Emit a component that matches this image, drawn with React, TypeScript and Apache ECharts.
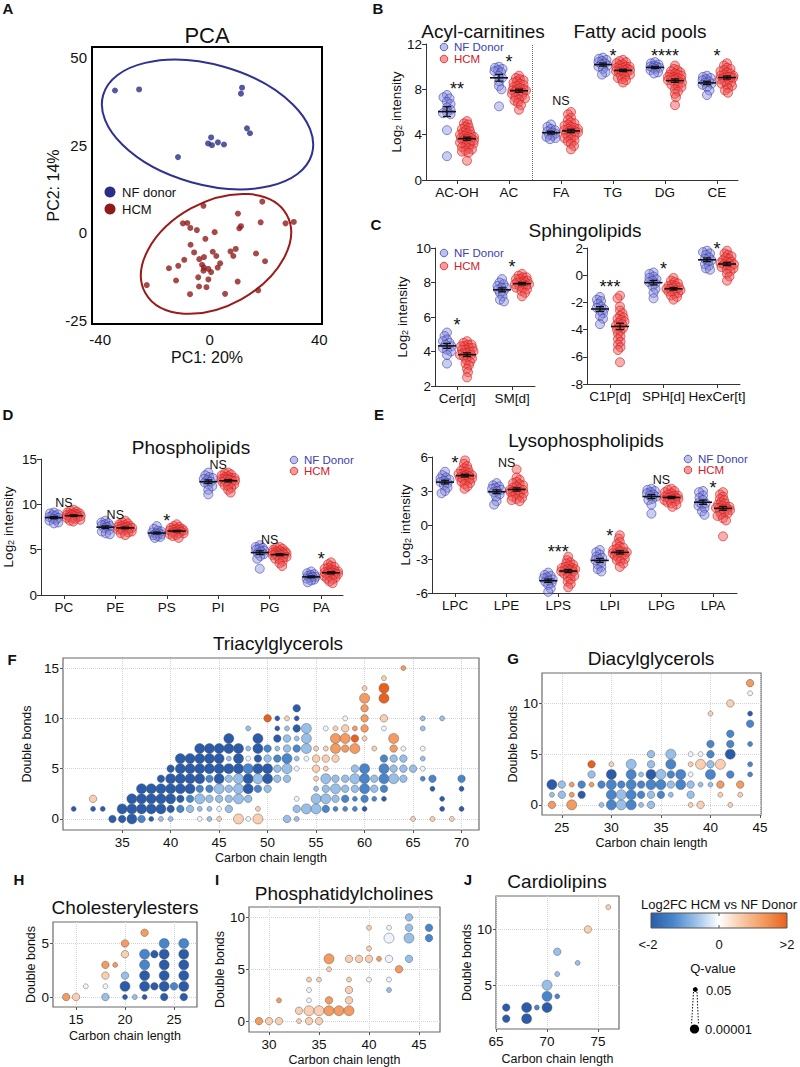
import React, { useEffect, useRef } from "react";
import * as echarts from "echarts";

const FONT = "'Liberation Sans', Arial, Helvetica, sans-serif";

// ---------------- Panel A : PCA ----------------
const pcaXTicks = [-40, 0, 40];
const pcaYTicks = [-25, 0, 25, 50];
const pcaNF: number[][] = [
  [-34.6, 40.6], [-25.8, 40.9], [11.8, 41.4], [11.4, 39.7], [13.6, 29.8], [14.7, 28.4],
  [0.5, 27.2], [-0.6, 25.5], [0.8, 25.0], [3.0, 25.8], [5.2, 25.2], [-11.6, 21.6],
];
const pcaHCM: number[][] = [
  [-2.3, 7.7], [19.2, 8.9], [10.3, 5.5], [-9.8, 2.7], [-8.2, 2.8], [-7.1, 1.4], [-4.7, 0.8],
  [1.8, 0.2], [10.8, 1.3], [11.4, 1.9], [18.6, 3.0], [27.7, 2.7], [30.7, 3.1], [-1.6, -1.7],
  [-7.0, -3.4], [-5.7, -5.6], [1.1, -5.4], [2.4, -6.6], [7.6, -5.3], [9.5, -4.6], [8.6, -6.6],
  [16.9, -5.9], [20.2, -8.1], [-9.3, -7.7], [-3.8, -7.5], [-2.1, -6.9], [-2.8, -9.1],
  [-2.1, -9.9], [-0.5, -10.3], [0.5, -11.2], [-2.3, -10.8], [3.8, -8.7], [2.9, -9.9],
  [-14.9, -10.1], [-11.5, -9.4], [-12.3, -13.6], [-4.2, -12.7], [-0.5, -13.3], [10.2, -13.9],
  [-23.0, -14.9], [-3.9, -15.3], [-1.2, -15.5], [-7.2, -17.5], [5.6, -17.4], [17.7, -16.4],
];
// cx, cy, semi-axis a (x units), semi-axis b (y units), rotation (deg)
const pcaEllipses: number[][] = [
  [-0.8, 30.9, 39.6, 17.1, -15.7],
  [2.3, -6.0, 29.5, 14.8, 29],
];

// ---------------- Panel B ----------------
const bCats = ["AC-OH", "AC", "FA", "TG", "DG", "CE"];
const bNF: number[][] = [
  [7.5, 7.3, 7.2, 6.9, 6.7, 6.4, 6.2, 6.0, 5.9, 5.8, 4.4, 2.1],
  [10.0, 9.9, 9.8, 9.7, 9.6, 9.5, 9.2, 9.0, 8.7, 8.3, 8.0, 6.5],
  [4.9, 4.7, 4.5, 4.4, 4.3, 4.2, 4.1, 4.0, 3.9, 3.8, 3.7, 3.6],
  [10.8, 10.7, 10.6, 10.5, 10.4, 10.3, 10.2, 10.1, 10.0, 9.8, 9.5, 9.3],
  [10.4, 10.3, 10.2, 10.1, 10.0, 10.0, 9.9, 9.9, 9.8, 9.7, 9.5, 9.4],
  [9.2, 9.1, 9.0, 8.9, 8.8, 8.7, 8.6, 8.5, 8.4, 8.2, 7.9, 7.5],
];
const bHCM: number[][] = [
  [5.2, 5.0, 4.9, 4.7, 4.6, 4.5, 4.4, 4.3, 4.2, 4.1, 4.0, 4.0, 3.9, 3.8, 3.8, 3.7, 3.7, 3.6, 3.6, 3.5, 3.5, 3.4, 3.3, 3.3, 3.2, 3.1, 3.0, 2.9, 2.8, 2.7, 2.6, 2.5, 2.4, 1.7],
  [9.2, 9.0, 8.9, 8.8, 8.7, 8.6, 8.5, 8.4, 8.3, 8.2, 8.1, 8.0, 8.0, 7.9, 7.9, 7.8, 7.8, 7.7, 7.6, 7.5, 7.4, 7.3, 7.2, 7.1, 7.0, 6.8, 6.6, 6.2],
  [6.0, 5.8, 5.5, 5.3, 5.1, 5.0, 4.9, 4.8, 4.7, 4.6, 4.5, 4.5, 4.4, 4.4, 4.3, 4.3, 4.2, 4.1, 4.0, 3.9, 3.8, 3.7, 3.6, 3.5, 3.4, 3.2, 3.0, 2.7],
  [10.6, 10.5, 10.4, 10.3, 10.2, 10.1, 10.0, 10.0, 9.9, 9.9, 9.8, 9.8, 9.7, 9.7, 9.6, 9.6, 9.5, 9.5, 9.4, 9.3, 9.2, 9.1, 9.0, 8.9, 8.8, 8.6],
  [10.1, 9.8, 9.7, 9.6, 9.5, 9.4, 9.3, 9.3, 9.2, 9.1, 9.1, 9.0, 9.0, 8.9, 8.9, 8.8, 8.8, 8.7, 8.6, 8.5, 8.4, 8.3, 8.2, 8.0, 7.8, 7.6, 7.3, 6.6],
  [10.3, 10.1, 9.9, 9.8, 9.7, 9.6, 9.5, 9.4, 9.3, 9.2, 9.2, 9.1, 9.1, 9.0, 9.0, 8.9, 8.8, 8.7, 8.6, 8.5, 8.4, 8.3, 8.1, 7.9, 7.7],
];
const bSig = ["**", "*", "NS", "*", "****", "*"];
const bSigY = [8.35, 10.8, 7.0, 11.3, 11.3, 11.3];

// ---------------- Panel C ----------------
const cLCats = ["Cer[d]", "SM[d]"];
const cLNF: number[][] = [
  [5.1, 4.9, 4.7, 4.6, 4.5, 4.4, 4.3, 4.2, 4.1, 4.0, 3.8, 3.3],
  [8.2, 8.0, 7.9, 7.8, 7.7, 7.7, 7.6, 7.5, 7.4, 7.2, 7.0, 6.9],
];
const cLHCM: number[][] = [
  [4.6, 4.5, 4.4, 4.4, 4.3, 4.3, 4.2, 4.2, 4.1, 4.1, 4.0, 4.0, 3.9, 3.9, 3.8, 3.8, 3.7, 3.7, 3.6, 3.5, 3.4, 3.3, 3.2, 3.0, 2.8, 2.5],
  [8.5, 8.4, 8.3, 8.3, 8.2, 8.2, 8.1, 8.1, 8.0, 8.0, 8.0, 7.9, 7.9, 7.9, 7.8, 7.8, 7.7, 7.7, 7.6, 7.5, 7.4, 7.2],
];
const cLSig = ["*", "*"];
const cLSigY = [5.77, 9.1];

const cRCats = ["C1P[d]", "SPH[d]", "HexCer[t]"];
const cRNF: number[][] = [
  [-1.6, -1.8, -1.9, -2.1, -2.3, -2.4, -2.5, -2.6, -2.8, -3.0, -3.2, -3.6],
  [0.2, 0.1, -0.1, -0.2, -0.3, -0.4, -0.5, -0.6, -0.8, -1.0, -1.3, -1.7],
  [1.8, 1.7, 1.6, 1.5, 1.3, 1.2, 1.1, 1.0, 0.8, 0.7, 0.5, 0.4],
];
const cRHCM: number[][] = [
  [-1.5, -1.7, -2.3, -2.6, -2.8, -3.0, -3.1, -3.2, -3.3, -3.4, -3.5, -3.6, -3.7, -3.8, -3.9, -4.0, -4.1, -4.3, -4.5, -4.7, -4.9, -5.1, -5.3, -5.5, -6.4],
  [-0.2, -0.4, -0.5, -0.6, -0.7, -0.8, -0.8, -0.9, -0.9, -1.0, -1.0, -1.1, -1.1, -1.2, -1.2, -1.3, -1.4, -1.5, -1.6, -1.8],
  [1.8, 1.6, 1.5, 1.4, 1.3, 1.2, 1.1, 1.0, 1.0, 0.9, 0.9, 0.8, 0.8, 0.7, 0.7, 0.6, 0.5, 0.4, 0.3, 0.1, -0.1, -0.4],
];
const cRSig = ["***", "*", "*"];
const cRSigY = [-0.6, 0.75, 2.22];

// ---------------- Panel D ----------------
const dCats = ["PC", "PE", "PS", "PI", "PG", "PA"];
const dNF: number[][] = [
  [9.1, 9.0, 8.9, 8.8, 8.7, 8.6, 8.5, 8.4, 8.3, 8.2, 8.0, 7.9],
  [8.2, 8.0, 7.9, 7.8, 7.7, 7.6, 7.5, 7.4, 7.2, 7.0, 6.8, 6.7],
  [7.6, 7.3, 7.1, 7.0, 6.9, 6.8, 6.8, 6.7, 6.6, 6.5, 6.4, 6.3],
  [13.5, 13.2, 13.0, 12.9, 12.8, 12.7, 12.5, 12.4, 12.2, 12.0, 11.6, 11.1],
  [5.5, 5.3, 5.2, 5.1, 5.0, 4.9, 4.8, 4.6, 4.5, 4.3, 4.0, 2.9],
  [2.6, 2.4, 2.3, 2.2, 2.1, 2.0, 2.0, 1.9, 1.8, 1.7, 1.6, 1.4],
];
const dHCM: number[][] = [
  [9.4, 9.3, 9.2, 9.1, 9.0, 9.0, 8.9, 8.9, 8.8, 8.8, 8.7, 8.7, 8.6, 8.6, 8.5, 8.5, 8.4, 8.3, 8.2, 8.1],
  [8.2, 8.0, 7.9, 7.8, 7.7, 7.6, 7.6, 7.5, 7.5, 7.4, 7.4, 7.3, 7.3, 7.2, 7.2, 7.1, 7.0, 6.9, 6.8, 6.6],
  [7.8, 7.6, 7.5, 7.4, 7.3, 7.3, 7.2, 7.2, 7.1, 7.1, 7.0, 7.0, 6.9, 6.9, 6.8, 6.8, 6.7, 6.6, 6.5, 6.3],
  [13.5, 13.4, 13.3, 13.2, 13.1, 13.0, 12.9, 12.9, 12.8, 12.8, 12.7, 12.7, 12.6, 12.6, 12.5, 12.4, 12.3, 12.2, 12.1, 12.0, 11.8, 11.6, 11.3],
  [5.3, 5.2, 5.1, 5.0, 4.9, 4.8, 4.8, 4.7, 4.7, 4.6, 4.6, 4.5, 4.5, 4.4, 4.4, 4.3, 4.2, 4.1, 4.0, 3.9, 3.7, 3.5, 3.2],
  [3.6, 3.4, 3.2, 3.1, 3.0, 2.9, 2.8, 2.7, 2.6, 2.6, 2.5, 2.5, 2.4, 2.4, 2.3, 2.3, 2.2, 2.1, 2.0, 1.9, 1.8, 1.7, 1.5, 1.3],
];
const dSig = ["NS", "NS", "*", "NS", "NS", "*"];
const dSigY = [10.2, 8.8, 8.6, 14.3, 6.1, 4.4];

// ---------------- Panel E ----------------
const eCats = ["LPC", "LPE", "LPS", "LPI", "LPG", "LPA"];
const eNF: number[][] = [
  [4.7, 4.4, 4.2, 4.1, 4.0, 3.9, 3.8, 3.7, 3.5, 3.3, 3.0, 2.8],
  [3.7, 3.5, 3.4, 3.3, 3.2, 3.1, 3.0, 2.9, 2.7, 2.5, 2.1, 1.8],
  [-4.2, -4.4, -4.5, -4.6, -4.7, -4.8, -4.9, -5.0, -5.1, -5.3, -5.6, -5.9],
  [-2.2, -2.4, -2.6, -2.8, -2.9, -3.0, -3.1, -3.3, -3.5, -3.7, -3.9, -4.1],
  [3.2, 3.1, 3.0, 2.9, 2.8, 2.7, 2.6, 2.5, 2.3, 2.2, 1.8, 1.0],
  [3.0, 2.9, 2.6, 2.4, 2.2, 2.0, 1.9, 1.8, 1.7, 1.5, 1.2, 0.9],
];
const eHCM: number[][] = [
  [5.7, 5.4, 5.2, 5.0, 4.9, 4.8, 4.7, 4.6, 4.5, 4.5, 4.4, 4.4, 4.3, 4.3, 4.2, 4.2, 4.1, 4.1, 4.0, 3.9, 3.8, 3.7, 3.6, 3.4, 3.2],
  [4.9, 4.2, 4.0, 3.8, 3.7, 3.6, 3.5, 3.4, 3.3, 3.2, 3.1, 3.1, 3.0, 3.0, 2.9, 2.9, 2.8, 2.7, 2.6, 2.5, 2.4, 2.3, 2.2, 2.1],
  [-2.8, -3.1, -3.3, -3.4, -3.5, -3.6, -3.7, -3.8, -3.8, -3.9, -3.9, -4.0, -4.0, -4.1, -4.1, -4.2, -4.3, -4.4, -4.5, -4.6, -4.8, -5.0, -5.2, -5.5],
  [-0.9, -1.2, -1.5, -1.7, -1.9, -2.0, -2.1, -2.2, -2.3, -2.4, -2.4, -2.5, -2.5, -2.6, -2.6, -2.7, -2.8, -2.9, -3.0, -3.1, -3.2, -3.4, -3.7],
  [3.2, 3.1, 3.0, 2.9, 2.8, 2.7, 2.6, 2.6, 2.5, 2.5, 2.4, 2.4, 2.3, 2.3, 2.2, 2.2, 2.1, 2.0, 1.9, 1.8, 1.6],
  [2.9, 2.7, 2.5, 2.3, 2.2, 2.0, 1.9, 1.8, 1.7, 1.6, 1.6, 1.5, 1.5, 1.4, 1.4, 1.3, 1.2, 1.1, 1.0, 0.9, 0.8, 0.6, 0.4, -1.0],
];
const eSig = ["*", "NS", "***", "*", "NS", "*"];
const eSigY = [5.8, 5.45, -2.05, -0.6, 4.0, 3.6];

// ---------------- Bubble panels (F-J) ----------------
// token = <carbon><colour code><size code>; colour code = Log2FC class, size code = Q-value class
const fcCode: Record<string, number> = { D: -2, M: -1.35, L: -0.7, W: -0.12, P: 0.6, O: 1.3, R: 2 };
const qSize: Record<number, number> = { 1: 5, 2: 7.5, 3: 10 };

const tgRows: [number, string][] = [
  [0, "34D2 35D2 36D3 37M2 38D1 39L1 40L1 43W1 44L1 45P1 47P3 48W1 49P3 52L2 53L1 65P1 67P1 69P1"],
  [1, "30D1 32D1 33D1 35D3 36D3 37D3 38D3 39D3 40D2 41M2 42L2 43L1 44L1 45W1 46L2 49P1 53L2 54L3 55L3 56M2 57M1 58M1 59M1 60D1 68D1 70D1 72D1"],
  [2, "32P2 36D3 37D3 38D3 39D3 40D3 41D2 42M2 43L3 44L2 45L2 46L2 47L3 48L2 53W1 55L3 56L3 57L2 58M2 59M1 60M2 61M1 62D1 68D1"],
  [3, "37D3 38D3 39D3 40D3 41D3 42D3 43M2 44M2 45L3 46L2 47L3 48D3 49M2 50L2 55L1 56L2 57L3 58L2 59L2 60M3 61L2 62M2 67D1 70D1"],
  [4, "39D2 40D3 41D3 42D3 43D3 44M2 45D3 46L2 47L3 48D3 49L3 50D3 51L2 52L2 55P1 56L3 57L2 58L2 59L3 60M3 61L2 62M3 63L3 64L2 66M1 67M2 70M2"],
  [5, "40D2 41D3 42D3 43D3 44D3 45D3 46D3 47D3 48M3 49D3 50D3 51L2 52L3 53W1 55P2 56P1 59L2 60M3 62M3 63L2 64L2 65L2 66W1"],
  [6, "41D3 42D3 43D3 44D3 45D3 46L1 47D3 48W1 49D2 50L2 51M2 52M3 53L1 54W1 55P2 56P2 57P2 62M2 63L2 64L2 66L1"],
  [7, "43D3 44D3 45D3 46D3 47D3 48L1 49D3 50M2 51L1 52L2 53M2 54L3 55P1 56P1 57O3 58O2 59O3 61P1 63O2 64W1 66W1"],
  [8, "46D3 49D3 51D2 52L2 53L1 54L3 57O3 58O3 59R2 60P1 63O3"],
  [9, "48L1 51D1 52L1 53D2 54L3 56W1 57P1 58P2 59O1 60O2 62W1 66L1"],
  [10, "50R2 51D1 52P1 53D1 58W1 60O2 62P2 66L1 68L1"],
  [11, "53D2 60O2"],
  [12, "60O3 62R3"],
  [13, "60P1 62R3"],
  [14, "62P1"],
  [15, "64O1"],
];
const dgRows: [number, string][] = [
  [0, "24O2 26O3 29L1 30M3 31L3 32M3 33L1 34L2 38P1 39P2 42P1"],
  [1, "24L1 25L2 26O1 27D2 30M3 31L3 32M3 33M2 34L2 35M2 36L1 38L2 41P1 43P1"],
  [2, "24D3 25L2 26O1 27M2 28O1 29M2 30M3 31M2 32M3 33M2 34M3 35M3 36L2 37M3 38L2 39L1 40L1 41O2 43O2"],
  [3, "28L2 30D3 32M3 33L1 34D3 35L3 36M2 37M3 38W1 40M3 42M2 44M1"],
  [4, "28R2 30P1 32L3 34L2 36M3 38P1 39P3 40L2 41P3 44M1"],
  [5, "34L2 36L3 38W1 39W1 40M2 42D3"],
  [6, "40M2 42M2 44M1"],
  [7, "42M2"],
  [8, "44M2"],
  [9, "40P1 44D1"],
  [10, "42P2"],
  [11, "44W1"],
  [12, "44O2"],
];
const ceRows: [number, string][] = [
  [0, "14O2 15P2 18L2 20D1 21L1 22D1 24D2 26D2"],
  [1, "16W1 18W1 20D3 22D3 23D2 24D3 25M2 26D3"],
  [2, "18P2 20L2 22D3 24D3 26D3"],
  [3, "18O2 19O1 22M3 24D3 26D3"],
  [4, "20P2 22M3 23D2 24D3 26D3"],
  [5, "20O2 24M3 26M3"],
  [6, "22O2"],
];
const pcRows: [number, string][] = [
  [0, "29O2 30P2 31P2 33P1 34P2 35P2"],
  [1, "33P2 34P3 35P3 36O3 37O3 38O3"],
  [2, "31O1 34W1 36O2 38P2"],
  [3, "34W1 38P2 42L1"],
  [4, "34P1 35P1 38P1 40W1 42W1"],
  [5, "36P1 43O2"],
  [6, "36O3 38P2 39P2 40P2 41O1 42W2 44L2"],
  [7, "40P1"],
  [8, "42W3 44L3 46M2"],
  [9, "40P1 42W1 44L2 46M2"],
  [10, "44L2"],
];
const clRows: [number, string][] = [
  [2, "66D2 68D3"],
  [3, "66D2 68D3 69M1 70D3"],
  [4, "70M3 71M1"],
  [5, "70L3"],
  [6, "71L1"],
  [7, "73L1"],
  [8, "71L2"],
  [10, "74P2"],
  [12, "76P1"],
];

const fcColors = ["#2b5ca9", "#4a86cc", "#9cc2e9", "#ffffff", "#f9c9a7", "#f3995c", "#e8621d"];

// ---------------- helpers ----------------
function parseRows(rows: [number, string][]): number[][] {
  const out: number[][] = [];
  rows.forEach(([y, s]) => {
    s.trim().split(/\s+/).forEach((tok) => {
      const m = tok.match(/^(\d+)([A-Z])(\d)$/);
      if (m) out.push([+m[1], y, fcCode[m[2]], +m[3]]);
    });
  });
  return out;
}

function swarm(values: number[], yPx: number, minD: number, maxHalf: number): number[] {
  const order = values.map((_, i) => i).sort((a, b) => values[b] - values[a]);
  const placed: { ox: number; py: number }[] = [];
  const out = new Array(values.length).fill(0);
  for (const i of order) {
    const py = values[i] * yPx;
    let chosen = 0;
    let bestD = -1;
    let found = false;
    for (let s = 0; s <= maxHalf && !found; s += 0.5) {
      const cands = s === 0 ? [0] : placed.length % 2 ? [-s, s] : [s, -s];
      for (const ox of cands) {
        let dmin = Infinity;
        for (const p of placed) {
          const d = Math.hypot(ox - p.ox, py - p.py);
          if (d < dmin) dmin = d;
        }
        if (dmin >= minD) { chosen = ox; found = true; break; }
        if (dmin > bestD) { bestD = dmin; chosen = ox; }
      }
    }
    placed.push({ ox: chosen, py });
    out[i] = chosen;
  }
  return out;
}

function meanSem(v: number[]): [number, number] {
  const n = v.length;
  const m = v.reduce((a, b) => a + b, 0) / n;
  const sd = Math.sqrt(v.reduce((a, b) => a + (b - m) * (b - m), 0) / (n - 1));
  return [m, sd / Math.sqrt(n)];
}

const NF_FILL = "rgba(125,130,218,0.5)";
const NF_STROKE = "rgba(55,60,165,0.9)";
const HCM_FILL = "rgba(238,85,85,0.6)";
const HCM_STROKE = "rgba(210,25,25,0.95)";

function buildOption() {
  const grid: any[] = [];
  const xAxis: any[] = [];
  const yAxis: any[] = [];
  const series: any[] = [];
  const graphic: any[] = [];
  const bubbleIdx: number[] = [];
  const tickFont = { fontFamily: FONT, color: "#111" };

  // ---- A: PCA ----
  grid.push({ left: 92, top: 47, width: 230, height: 277, show: true, borderColor: "#000", borderWidth: 2, backgroundColor: "transparent" });
  xAxis.push({
    type: "value", gridIndex: 0, min: -43, max: 41,
    axisLine: { show: false, onZero: false }, axisTick: { show: false }, splitLine: { show: false },
    axisLabel: { customValues: pcaXTicks, fontSize: 15, margin: 8, ...tickFont },
    name: "PC1: 20%", nameLocation: "middle", nameGap: 25,
    nameTextStyle: { fontSize: 16, ...tickFont },
  });
  yAxis.push({
    type: "value", gridIndex: 0, min: -26, max: 53,
    axisLine: { show: false, onZero: false }, axisTick: { show: false }, splitLine: { show: false },
    axisLabel: { customValues: pcaYTicks, fontSize: 15, margin: 5, ...tickFont },
    name: "PC2: 14%", nameLocation: "middle", nameGap: 24,
    nameTextStyle: { fontSize: 16, ...tickFont },
  });
  const ellColors = ["#2e3192", "#9b1b1b"];
  series.push({ type: "scatter", xAxisIndex: 0, yAxisIndex: 0, data: pcaNF, symbolSize: 6, itemStyle: { color: "#2b2e86" }, silent: true });
  series.push({ type: "scatter", xAxisIndex: 0, yAxisIndex: 0, data: pcaHCM, symbolSize: 6, itemStyle: { color: "#8e1b1b" }, silent: true });
  series.push({
    type: "custom", xAxisIndex: 0, yAxisIndex: 0, data: pcaEllipses, silent: true,
    renderItem: (params: any, api: any) => {
      const c = api.coord([api.value(0), api.value(1)]);
      const rx = api.size([api.value(2), 0])[0];
      const ry = api.size([0, api.value(3)])[1];
      return {
        type: "ellipse", x: c[0], y: c[1], rotation: (api.value(4) * Math.PI) / 180,
        shape: { cx: 0, cy: 0, rx, ry },
        style: { fill: "none", stroke: ellColors[params.dataIndex], lineWidth: 2 },
      };
    },
  });

  // ---- B-E: swarm panels ----
  const swarmPanels = [
    { grid: { left: 426, top: 44, width: 312, height: 136 }, xr: [-0.596, 5.404], yr: [0, 12, 4], cats: bCats, nf: bNF, hcm: bHCM, sig: bSig, sigY: bSigY, yName: true, nameGap: 16, divider: 1.45 },
    { grid: { left: 435, top: 248, width: 100, height: 138 }, xr: [-0.4, 1.418], yr: [2, 10, 2], cats: cLCats, nf: cLNF, hcm: cLHCM, sig: cLSig, sigY: cLSigY, yName: true, nameGap: 26 },
    { grid: { left: 587, top: 248, width: 153, height: 136 }, xr: [-0.43, 2.43], yr: [-8, 2, 2], cats: cRCats, nf: cRNF, hcm: cRHCM, sig: cRSig, sigY: cRSigY, yName: false, nameGap: 0 },
    { grid: { left: 39, top: 459, width: 304, height: 136 }, xr: [-0.444, 5.425], yr: [0, 15, 5], cats: dCats, nf: dNF, hcm: dHCM, sig: dSig, sigY: dSigY, yName: true, nameGap: 26 },
    { grid: { left: 432, top: 457, width: 305, height: 136 }, xr: [-0.446, 5.465], yr: [-6, 6, 3], cats: eCats, nf: eNF, hcm: eHCM, sig: eSig, sigY: eSigY, yName: true, nameGap: 18 },
  ];
  swarmPanels.forEach((p: any) => {
    const gi = grid.length;
    grid.push({ ...p.grid });
    const xPx = p.grid.width / (p.xr[1] - p.xr[0]);
    const yPx = p.grid.height / (p.yr[1] - p.yr[0]);
    const catIdx = p.cats.map((_: string, i: number) => i);
    xAxis.push({
      type: "value", gridIndex: gi, min: p.xr[0], max: p.xr[1],
      axisLine: { show: true, onZero: false, lineStyle: { color: "#333", width: 1 } },
      axisTick: { show: true, length: 4, customValues: catIdx, lineStyle: { color: "#333" } },
      axisLabel: { customValues: catIdx, formatter: (v: number) => p.cats[Math.round(v)] ?? "", fontSize: 13.5, margin: 5, ...tickFont },
      splitLine: { show: false },
    });
    yAxis.push({
      type: "value", gridIndex: gi, min: p.yr[0], max: p.yr[1], interval: p.yr[2],
      axisLine: { show: true, onZero: false, lineStyle: { color: "#333", width: 1 } },
      axisTick: { show: true, length: 4, lineStyle: { color: "#333" } },
      axisLabel: { fontSize: 13.5, margin: 4, ...tickFont },
      splitLine: { show: false },
      name: p.yName ? "Log{s|2} intensity" : "", nameLocation: "middle", nameGap: p.nameGap,
      nameTextStyle: { fontSize: 13.5, ...tickFont, rich: { s: { fontSize: 9, verticalAlign: "bottom", fontFamily: FONT, color: "#111" } } },
    });
    const nfData: number[][] = [];
    const hcmData: number[][] = [];
    const msData: number[][] = [];
    p.cats.forEach((_: string, i: number) => {
      const nfOff = swarm(p.nf[i], yPx, 4, 4.5);
      const hcmOff = swarm(p.hcm[i], yPx, 3.5, 7);
      const cN = i - 10 / xPx;
      const cH = i + 10 / xPx;
      p.nf[i].forEach((v: number, j: number) => nfData.push([cN + nfOff[j] / xPx, v]));
      p.hcm[i].forEach((v: number, j: number) => hcmData.push([cH + hcmOff[j] / xPx, v]));
      msData.push([cN, ...meanSem(p.nf[i])]);
      msData.push([cH, ...meanSem(p.hcm[i])]);
    });
    const nfSeries: any = {
      type: "scatter", xAxisIndex: gi, yAxisIndex: gi, data: nfData, symbolSize: 9, silent: true,
      itemStyle: { color: NF_FILL, borderColor: NF_STROKE, borderWidth: 0.8 },
    };
    if (p.divider !== undefined) {
      nfSeries.markLine = {
        silent: true, symbol: ["none", "none"], label: { show: false },
        lineStyle: { type: "dotted", color: "#666", width: 1 },
        data: [{ xAxis: p.divider }],
      };
    }
    series.push(nfSeries);
    series.push({
      type: "scatter", xAxisIndex: gi, yAxisIndex: gi, data: hcmData, symbolSize: 9, silent: true,
      itemStyle: { color: HCM_FILL, borderColor: HCM_STROKE, borderWidth: 0.8 },
    });
    series.push({
      type: "custom", xAxisIndex: gi, yAxisIndex: gi, data: msData, silent: true, z: 5,
      renderItem: (_params: any, api: any) => {
        const x = api.value(0), m = api.value(1), s = api.value(2);
        const c = api.coord([x, m]);
        const t = api.coord([x, m + s]);
        const b = api.coord([x, m - s]);
        const st = { stroke: "#111", lineWidth: 1.3 };
        return {
          type: "group",
          children: [
            { type: "line", shape: { x1: c[0] - 9, y1: c[1], x2: c[0] + 9, y2: c[1] }, style: { stroke: "#111", lineWidth: 1.6 } },
            { type: "line", shape: { x1: c[0], y1: t[1], x2: c[0], y2: b[1] }, style: st },
            { type: "line", shape: { x1: c[0] - 4, y1: t[1], x2: c[0] + 4, y2: t[1] }, style: st },
            { type: "line", shape: { x1: c[0] - 4, y1: b[1], x2: c[0] + 4, y2: b[1] }, style: st },
          ],
        };
      },
    });
    series.push({
      type: "custom", xAxisIndex: gi, yAxisIndex: gi, silent: true, z: 6,
      data: p.sig.map((_: string, i: number) => [i, p.sigY[i]]),
      renderItem: (params: any, api: any) => {
        const label = p.sig[params.dataIndex];
        const star = label.indexOf("*") >= 0;
        const fs = star ? 18 : 12.5;
        const c = api.coord([api.value(0), api.value(1)]);
        return {
          type: "text", x: c[0], y: c[1] + (star ? 0.22 * fs : 0),
          style: { text: label, fontSize: fs, fontFamily: FONT, fill: "#111", align: "center", verticalAlign: "middle", textAlign: "center", textVerticalAlign: "middle" },
        };
      },
    });
  });

  // ---- F-J: bubble panels ----
  const bubblePanels = [
    { grid: { left: 63, top: 658, width: 416, height: 172 }, xr: [28.9, 71.8], yr: [-1.1, 16], xt: [35, 40, 45, 50, 55, 60, 65, 70], yt: [0, 5, 10, 15], rows: tgRows, xGap: 21, yGap: 22 },
    { grid: { left: 542, top: 673, width: 219, height: 142 }, xr: [23, 45.1], yr: [-1, 13], xt: [25, 30, 35, 40, 45], yt: [0, 5, 10], rows: dgRows, xGap: 21, yGap: 23 },
    { grid: { left: 53, top: 922, width: 144, height: 85 }, xr: [12.65, 27.35], yr: [-0.93, 7], xt: [15, 20, 25], yt: [0, 5], rows: ceRows, xGap: 22, yGap: 14 },
    { grid: { left: 249, top: 907, width: 191, height: 125 }, xr: [28, 47.1], yr: [-1.05, 11], xt: [30, 35, 40, 45], yt: [0, 5, 10], rows: pcRows, xGap: 21, yGap: 21 },
    { grid: { left: 496, top: 896, width: 123, height: 133 }, xr: [65, 77.05], yr: [1.07, 13], xt: [65, 70, 75], yt: [5, 10], rows: clRows, xGap: 23, yGap: 22 },
  ];
  bubblePanels.forEach((p: any) => {
    const gi = grid.length;
    grid.push({ ...p.grid, show: true, borderColor: "#6b6b6b", borderWidth: 1.2, backgroundColor: "transparent" });
    xAxis.push({
      type: "value", gridIndex: gi, min: p.xr[0], max: p.xr[1],
      axisLine: { show: false, onZero: false },
      axisTick: { show: true, length: 3, customValues: p.xt, lineStyle: { color: "#555" } },
      axisLabel: { customValues: p.xt, fontSize: 13.5, margin: 5, ...tickFont },
      splitLine: { show: false },
      name: "Carbon chain length", nameLocation: "middle", nameGap: p.xGap,
      nameTextStyle: { fontSize: 12.5, ...tickFont },
    });
    yAxis.push({
      type: "value", gridIndex: gi, min: p.yr[0], max: p.yr[1],
      axisLine: { show: false, onZero: false },
      axisTick: { show: true, length: 3, customValues: p.yt, lineStyle: { color: "#555" } },
      axisLabel: { customValues: p.yt, fontSize: 13.5, margin: 4, ...tickFont },
      splitLine: { show: false },
      name: "Double bonds", nameLocation: "middle", nameGap: p.yGap,
      nameTextStyle: { fontSize: 12.5, ...tickFont },
    });
    series.push({
      type: "scatter", xAxisIndex: gi, yAxisIndex: gi, data: [], silent: true, z: 0, zlevel: 0,
      markLine: {
        silent: true, z: 0, symbol: ["none", "none"], label: { show: false },
        lineStyle: { type: "dotted", color: "#d2d2d2", width: 1 },
        data: [...p.xt.map((v: number) => ({ xAxis: v })), ...p.yt.map((v: number) => ({ yAxis: v }))],
      },
    });
    bubbleIdx.push(series.length);
    series.push({
      type: "scatter", xAxisIndex: gi, yAxisIndex: gi, data: parseRows(p.rows), silent: true, z: 8,
      symbolSize: (val: number[]) => qSize[val[3]] || 5,
      itemStyle: { borderColor: "rgba(85,85,85,0.75)", borderWidth: 0.6, opacity: 1 },
    });
  });

  // ---- graphic: titles, letters, legends ----
  const T = (x: number, y: number, text: string, size: number, o: any = {}) => ({
    type: "text", x, y, silent: true, z: 50,
    style: {
      text, fontSize: size, fontFamily: FONT, fontWeight: o.weight || "normal", fill: o.color || "#111",
      align: o.align || "center", verticalAlign: "middle", textAlign: o.align || "center", textVerticalAlign: "middle",
    },
  });
  const C = (cx: number, cy: number, r: number, fill: string, stroke?: string) => ({
    type: "circle", silent: true, z: 50, shape: { cx, cy, r },
    style: { fill, stroke: stroke || "none", lineWidth: 0.8 },
  });
  // panel letters
  [["A", 8, 8], ["B", 378, 8], ["C", 376, 224], ["D", 8, 414], ["E", 379, 414], ["F", 12, 659], ["G", 513, 658], ["H", 19, 879], ["I", 217, 879], ["J", 468, 879]].forEach(
    ([t, x, y]: any) => graphic.push(T(x, y, t, 15, { weight: "bold" }))
  );
  // titles
  graphic.push(T(207, 35, "PCA", 22));
  graphic.push(T(483, 31, "Acyl-carnitines", 19));
  graphic.push(T(640, 31, "Fatty acid pools", 19));
  graphic.push(T(585, 230, "Sphingolipids", 19));
  graphic.push(T(191, 447, "Phospholipids", 19));
  graphic.push(T(586, 440, "Lysophospholipids", 19));
  graphic.push(T(278, 643, "Triacylglycerols", 19));
  graphic.push(T(651, 658, "Diacylglycerols", 19));
  graphic.push(T(125, 907, "Cholesterylesters", 19));
  graphic.push(T(344, 893, "Phosphatidylcholines", 19));
  graphic.push(T(557, 881, "Cardiolipins", 19));
  // PCA legend
  graphic.push(C(110, 192, 5.5, "#2b2e86"));
  graphic.push(T(122, 192, "NF donor", 13, { align: "left" }));
  graphic.push(C(110, 209, 5.5, "#8e1b1b"));
  graphic.push(T(122, 209, "HCM", 13, { align: "left" }));
  // swarm legends
  [[444, 47, 59], [444, 253, 266], [294, 460, 471], [688, 459, 470]].forEach(([x, y1, y2]) => {
    graphic.push(C(x, y1, 3.8, NF_FILL, NF_STROKE));
    graphic.push(T(x + 10, y1, "NF Donor", 11.5, { align: "left", color: "#3b3fb0" }));
    graphic.push(C(x, y2, 3.8, HCM_FILL, HCM_STROKE));
    graphic.push(T(x + 10, y2, "HCM", 11.5, { align: "left", color: "#d0202a" }));
  });
  // colour bar legend
  graphic.push(T(719, 904, "Log2FC HCM vs NF Donor", 13));
  graphic.push({
    type: "rect", silent: true, z: 50, shape: { x: 651, y: 913, width: 136, height: 15 },
    style: {
      fill: new echarts.graphic.LinearGradient(0, 0, 1, 0, fcColors.map((c, i) => ({ offset: i / (fcColors.length - 1), color: c }))),
      stroke: "#555", lineWidth: 1,
    },
  });
  graphic.push({ type: "line", silent: true, z: 51, shape: { x1: 719, y1: 913, x2: 719, y2: 916 }, style: { stroke: "#555", lineWidth: 1 } });
  graphic.push({ type: "line", silent: true, z: 51, shape: { x1: 719, y1: 925, x2: 719, y2: 928 }, style: { stroke: "#555", lineWidth: 1 } });
  graphic.push(T(648, 944, "<-2", 13));
  graphic.push(T(719, 944, "0", 13));
  graphic.push(T(787, 944, ">2", 13));
  graphic.push(T(713, 968, "Q-value", 13));
  graphic.push({ type: "line", silent: true, z: 50, shape: { x1: 693.5, y1: 992, x2: 691.5, y2: 1025 }, style: { stroke: "#111", lineWidth: 1, lineDash: [1.5, 1.5] } });
  graphic.push({ type: "line", silent: true, z: 50, shape: { x1: 697, y1: 992, x2: 698.5, y2: 1025 }, style: { stroke: "#111", lineWidth: 1, lineDash: [1.5, 1.5] } });
  graphic.push(C(695.3, 989.5, 2.4, "#000"));
  graphic.push(T(706, 990, "0.05", 13, { align: "left" }));
  graphic.push(C(694.5, 1029, 4.6, "#000"));
  graphic.push(T(705, 1029, "0.00001", 13, { align: "left" }));

  return {
    animation: false,
    backgroundColor: "#fff",
    textStyle: { fontFamily: FONT },
    grid, xAxis, yAxis, series, graphic,
    visualMap: [{
      type: "continuous", show: false, min: -2, max: 2, dimension: 2,
      seriesIndex: bubbleIdx, inRange: { color: fcColors },
    }],
  };
}

export default function App() {
  const ref = useRef<HTMLDivElement>(null);
  useEffect(() => {
    if (!ref.current) return;
    const chart = echarts.init(ref.current, null, { renderer: "svg" });
    chart.setOption(buildOption() as any);
    return () => chart.dispose();
  }, []);
  return <div ref={ref} style={{ position: "absolute", left: 0, top: 0, width: 800, height: 1067, background: "#fff" }} />;
}
